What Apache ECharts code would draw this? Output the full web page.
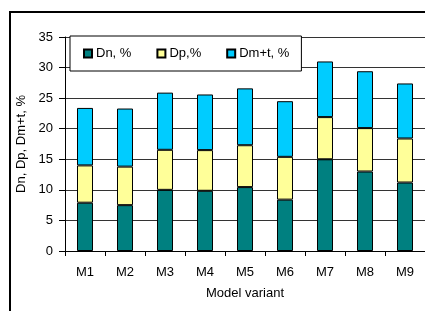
<!DOCTYPE html>
<html>
<head>
<meta charset="utf-8">
<script src="https://cdn.jsdelivr.net/npm/echarts@6/dist/echarts.min.js"></script>
<style>
  html, body { margin: 0; padding: 0; background: #fff; }
  #chart { width: 425px; height: 311px; }
</style>
</head>
<body>
<div id="chart"></div>
<script>
const categories = ['M1', 'M2', 'M3', 'M4', 'M5', 'M6', 'M7', 'M8', 'M9']
const dn = [7.9, 7.5, 10.0, 9.85, 10.45, 8.4, 15.0, 13.0, 11.2]
const dp = [6.1, 6.3, 6.55, 6.65, 6.85, 7.0, 6.9, 7.1, 7.2]
const dmt = [9.4, 9.5, 9.35, 9.1, 9.3, 9.1, 9.1, 9.3, 9.0]

const font = 'Arial, "Liberation Sans", sans-serif'

function barSeries(name, data, color) {
  return {
    name,
    type: 'bar',
    stack: 'total',
    barWidth: 16,
    data,
    itemStyle: { color, borderColor: '#000', borderWidth: 1 }
  }
}

const chart = echarts.init(document.getElementById('chart'))
chart.setOption({
  animation: false,
  textStyle: { fontFamily: font, fontSize: 13, color: '#000' },
  graphic: [{
    type: 'rect',
    shape: { x: 10, y: 12, width: 500, height: 500 },
    style: { fill: 'none', stroke: '#000', lineWidth: 2 },
    z: 100
  }],
  legend: {
    left: 70,
    top: 36,
    padding: [11, 12, 11, 13],
    backgroundColor: '#fff',
    borderColor: '#000',
    borderWidth: 1,
    itemWidth: 8,
    itemHeight: 8,
    itemGap: 25,
    icon: 'rect',
    textStyle: { fontFamily: font, fontSize: 13, color: '#000', padding: [0, 0, 0, -1] },
    data: ['Dn, %', 'Dp,%', 'Dm+t, %']
  },
  grid: { left: 65, right: 0, top: 37, bottom: 60 },
  xAxis: {
    type: 'category',
    data: categories,
    name: 'Model variant',
    nameLocation: 'middle',
    nameGap: 36,
    nameTextStyle: { fontFamily: font, fontSize: 13, color: '#000' },
    axisLine: { lineStyle: { color: '#000', width: 1 } },
    axisTick: { show: true, length: 5, lineStyle: { color: '#000' } },
    axisLabel: { margin: 15, fontFamily: font, fontSize: 13, color: '#000' }
  },
  yAxis: {
    type: 'value',
    min: 0,
    max: 35,
    interval: 5,
    name: 'Dn, Dp, Dm+t, %',
    nameLocation: 'middle',
    nameGap: 36,
    nameTextStyle: { fontFamily: font, fontSize: 13, color: '#000' },
    axisLine: { show: true, lineStyle: { color: '#000', width: 1 } },
    axisTick: { show: true, length: 6, lineStyle: { color: '#000' } },
    axisLabel: { margin: 12, fontFamily: font, fontSize: 13, color: '#000' },
    splitLine: { lineStyle: { color: '#333', width: 1 } }
  },
  series: [
    barSeries('Dn, %', dn, '#008080'),
    barSeries('Dp,%', dp, '#FFFF99'),
    barSeries('Dm+t, %', dmt, '#00CCFF')
  ]
})
</script>
</body>
</html>
